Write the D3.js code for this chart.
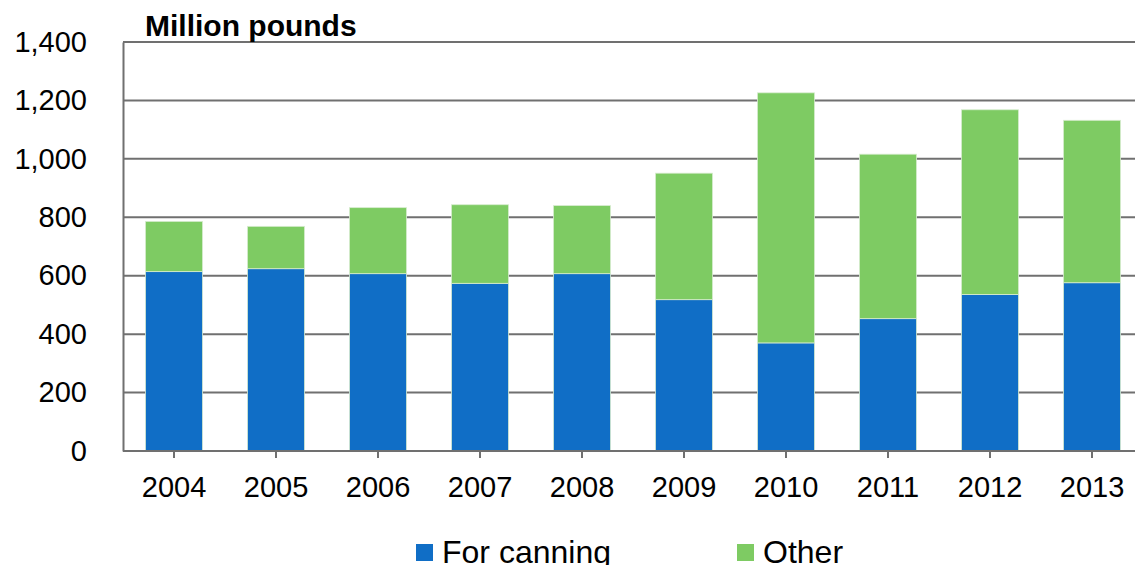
<!DOCTYPE html>
<html>
<head>
<meta charset="utf-8">
<script src="https://cdn.jsdelivr.net/npm/d3@7"></script>
<style>
  body { margin: 0; background: #fff; }
  svg { font-family: "Liberation Sans", Arial, sans-serif; }
</style>
</head>
<body>
<svg id="chart" width="1135" height="565"></svg>
<script>
const years = ['2004', '2005', '2006', '2007', '2008', '2009', '2010', '2011', '2012', '2013'];
const forCanning = [614, 624, 607, 574, 607, 518, 370, 453, 536, 576];
const other = [172, 145, 226, 269, 233, 433, 856, 563, 632, 556];
const yTicks = [0, 200, 400, 600, 800, 1000, 1200, 1400];
const seriesNames = ['For canning', 'Other'];
const colors = ['#106ec6', '#7ecb63'];

const svg = d3.select('#chart');
const plotLeft = 123;
const plotTop = 42;
const plotBottom = 451;

const x = d3.scaleBand()
  .domain(years)
  .range([plotLeft, plotLeft + 1020])
  .paddingInner(0.44)
  .paddingOuter(0.22);

const y = d3.scaleLinear()
  .domain([0, 1400])
  .range([plotBottom, plotTop]);

// gridlines
svg.append('g')
  .selectAll('line')
  .data(yTicks.filter(d => d > 0))
  .enter()
  .append('line')
  .attr('x1', plotLeft)
  .attr('x2', 1135)
  .attr('y1', d => y(d))
  .attr('y2', d => y(d))
  .attr('stroke', '#707070')
  .attr('stroke-width', 2);

const rows = years.map((yr, i) => ({ year: yr, canning: forCanning[i], other: other[i] }));
const stack = d3.stack().keys(['canning', 'other'])(rows);

svg.append('g')
  .selectAll('g')
  .data(stack)
  .enter()
  .append('g')
  .attr('fill', (d, i) => colors[i])
  .selectAll('rect')
  .data(d => d)
  .enter()
  .append('rect')
  .attr('x', d => x(d.data.year))
  .attr('y', d => y(d[1]))
  .attr('width', x.bandwidth())
  .attr('height', d => y(d[0]) - y(d[1]))
  .attr('stroke', '#d8ecd0')
  .attr('stroke-width', 0.8);

// y axis
const yAxis = d3.axisLeft(y)
  .tickValues(yTicks)
  .tickSize(0)
  .tickPadding(36)
  .tickFormat(d3.format(','));

const yg = svg.append('g')
  .attr('transform', `translate(${plotLeft},0)`)
  .call(yAxis);
yg.select('.domain').attr('stroke', '#707070').attr('stroke-width', 2);
yg.selectAll('text')
  .attr('font-size', 29)
  .attr('fill', '#000')
  .attr('font-family', '"Liberation Sans", Arial, sans-serif');

// x axis
const xAxis = d3.axisBottom(x)
  .tickSize(7);

const xg = svg.append('g')
  .attr('transform', `translate(0,${plotBottom})`)
  .call(xAxis);
xg.select('.domain').attr('d', `M${plotLeft},0H1135`).attr('stroke', '#707070').attr('stroke-width', 2);
xg.selectAll('.tick line').attr('stroke', '#707070').attr('stroke-width', 2);
xg.selectAll('text')
  .attr('y', 46)
  .attr('dy', null)
  .attr('font-size', 29)
  .attr('fill', '#000')
  .attr('font-family', '"Liberation Sans", Arial, sans-serif');

// title
svg.append('text')
  .attr('x', 145)
  .attr('y', 36)
  .attr('font-size', 30)
  .attr('font-weight', 'bold')
  .attr('fill', '#000')
  .text('Million pounds');

// legend
const legendX = [416, 737];
const legend = svg.append('g')
  .selectAll('g')
  .data(seriesNames)
  .enter()
  .append('g')
  .attr('transform', (d, i) => `translate(${legendX[i]},0)`);

legend.append('rect')
  .attr('x', 0)
  .attr('y', 544)
  .attr('width', 17)
  .attr('height', 17)
  .attr('fill', (d, i) => colors[i]);

legend.append('text')
  .attr('x', 26)
  .attr('y', 563)
  .attr('font-size', 32)
  .attr('fill', '#000')
  .text(d => d);
</script>
</body>
</html>
